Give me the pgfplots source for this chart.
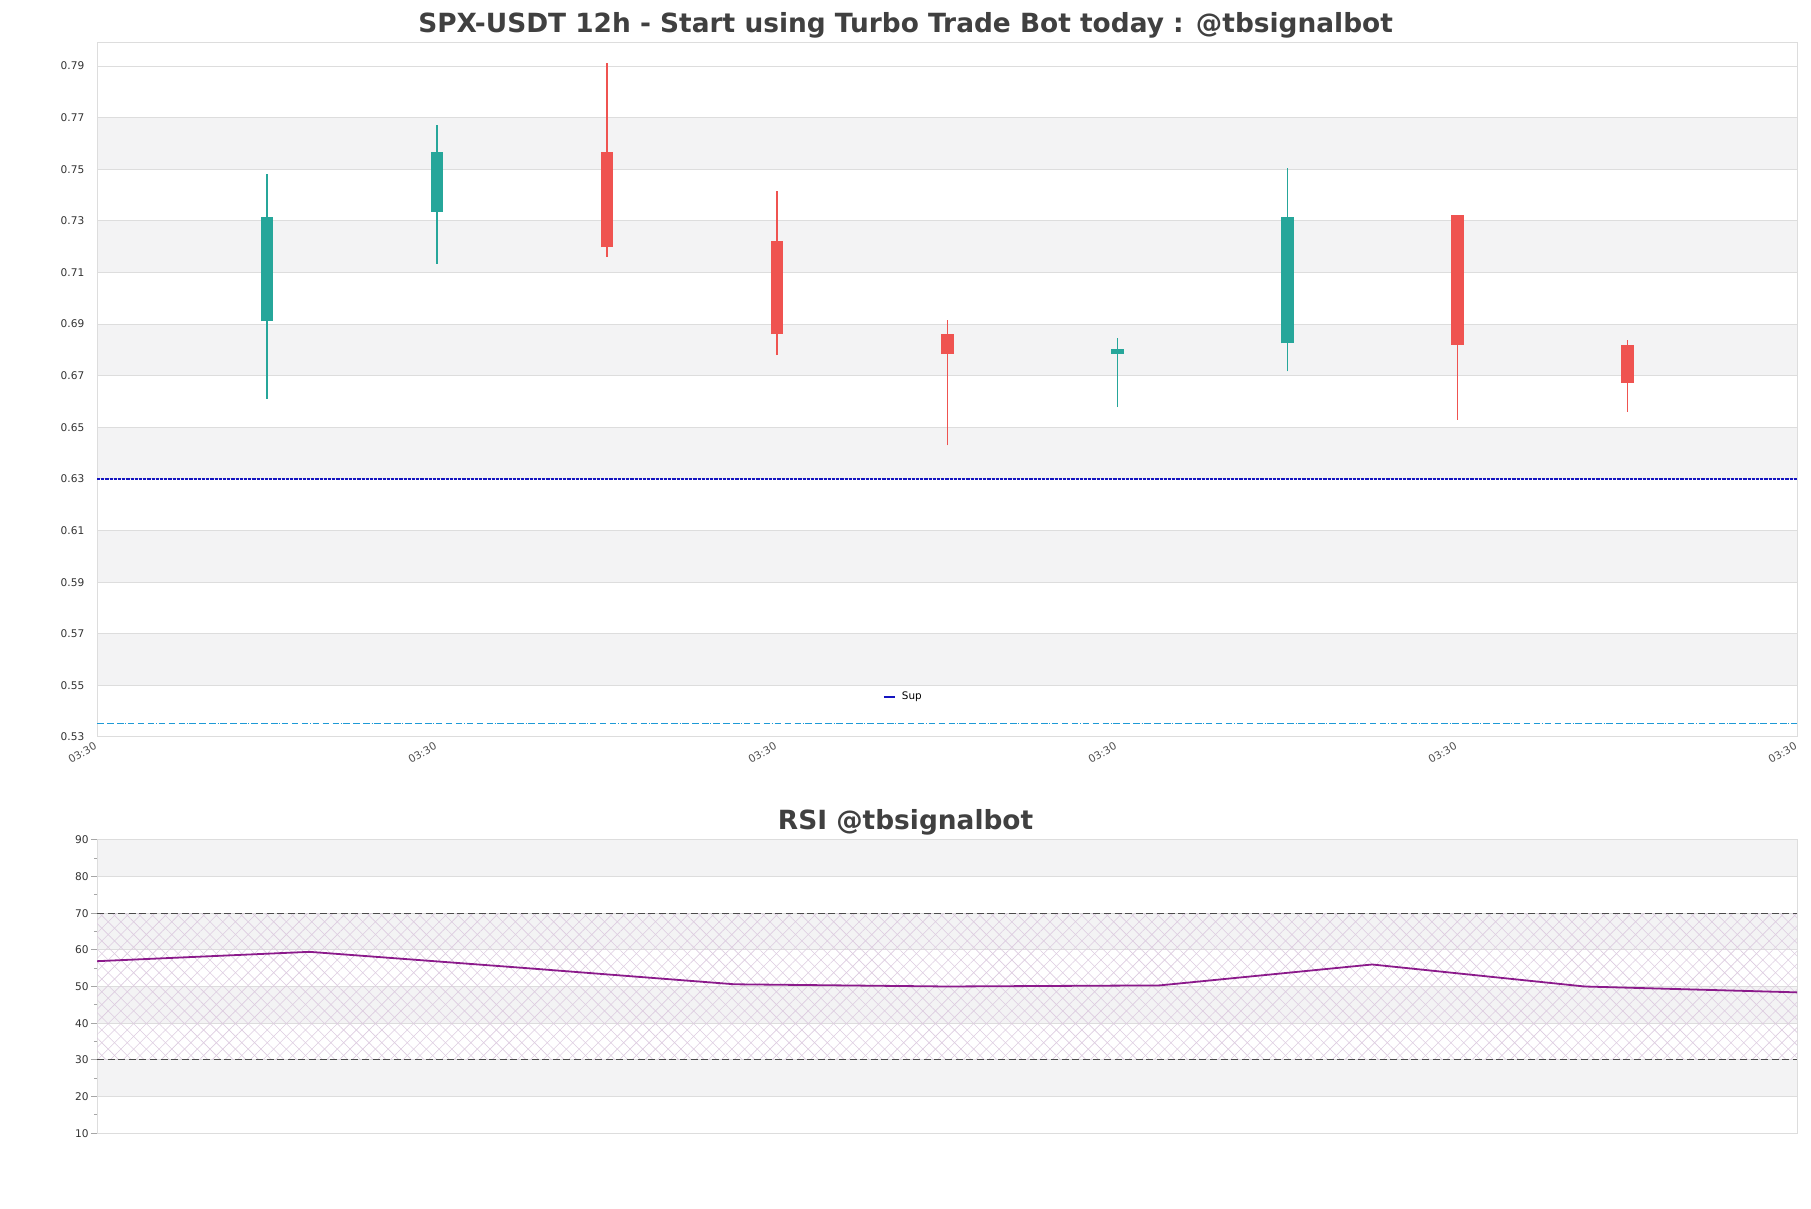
\documentclass[border=0pt]{standalone}
\usepackage{pgfplots}
\pgfplotsset{compat=1.18}
\usepackage{pgfplotstable}
\usetikzlibrary{patterns.meta}
\usepackage{fontspec}
\setmainfont{DejaVu Sans}
\definecolor{cgreen}{HTML}{26A69A}
\definecolor{cred}{HTML}{EF5350}
\definecolor{band}{HTML}{F3F3F4}
\definecolor{gridc}{HTML}{DDDDDD}
\definecolor{titlec}{HTML}{404040}
\definecolor{ticc}{HTML}{333333}
\definecolor{supc}{HTML}{1414C0}
\definecolor{cyanc}{HTML}{1E9AD6}
\definecolor{rsic}{HTML}{8B1A8B}
\definecolor{hatchc}{HTML}{DDCCE0}

\pgfplotstableread{
x o h l c
1 0.6910 0.7483 0.6610 0.7313
2 0.7335 0.7672 0.7134 0.7568
6 0.6784 0.6847 0.6578 0.6802
7 0.6825 0.7506 0.6717 0.7313
}\greentab
\pgfplotstableread{
x o h l c
3 0.7568 0.7913 0.7161 0.7197
4 0.7220 0.7416 0.6780 0.6861
5 0.6860 0.6914 0.6430 0.6784
8 0.7322 0.7322 0.6529 0.6820
9 0.6820 0.6838 0.6560 0.6673
}\redtab
\pgfplotstableread{
x rsi
0 56.9
1 59.45
2 55.1
3 50.6
4 50.0
5 50.3
6 56.0
7 50.0
8 48.4
}\rsitab

\begin{document}
\begin{tikzpicture}
\pgfplotsset{
  /pgf/number format/assume math mode=true,
}
% ---------------- main candlestick axis ----------------
\begin{axis}[
  set layers,
  at={(48.5pt,235.6pt)}, anchor=south west,
  scale only axis, width=850.1pt, height=347.1pt,
  xmin=0, xmax=10, ymin=0.53, ymax=0.799,
  axis line style={gridc, line width=0.5pt},
  xtick={0,2,4,6,8,10},
  xticklabels={03:30,03:30,03:30,03:30,03:30,03:30},
  ytick={0.53,0.55,0.57,0.59,0.61,0.63,0.65,0.67,0.69,0.71,0.73,0.75,0.77,0.79},
  ymajorgrids, grid style={gridc, line width=0.5pt},
  major tick length=0pt,
  tick label style={font=\fontsize{5.3}{6}\selectfont, text=ticc},
  yticklabel style={/pgf/number format/fixed, /pgf/number format/fixed zerofill, /pgf/number format/precision=2, xshift=-2.8pt},
  xticklabel style={rotate=30, anchor=north east, inner sep=1pt, text=ticc!85, xshift=-1.5pt},
  legend style={at={(0.462,0.058)}, anchor=west, draw=none, fill=none, inner sep=0pt,
    font=\fontsize{5.2}{6}\selectfont, nodes={inner sep=1pt}},
  legend image code/.code={\draw[supc, solid, line width=1pt] (0pt,0pt) -- (5.5pt,0pt);},
]
% background bands
\addplot[on layer=axis background, fill=band, draw=none, forget plot] coordinates {(0,0.75) (10,0.75) (10,0.77) (0,0.77)} -- cycle;
\addplot[on layer=axis background, fill=band, draw=none, forget plot] coordinates {(0,0.71) (10,0.71) (10,0.73) (0,0.73)} -- cycle;
\addplot[on layer=axis background, fill=band, draw=none, forget plot] coordinates {(0,0.67) (10,0.67) (10,0.69) (0,0.69)} -- cycle;
\addplot[on layer=axis background, fill=band, draw=none, forget plot] coordinates {(0,0.63) (10,0.63) (10,0.65) (0,0.65)} -- cycle;
\addplot[on layer=axis background, fill=band, draw=none, forget plot] coordinates {(0,0.59) (10,0.59) (10,0.61) (0,0.61)} -- cycle;
\addplot[on layer=axis background, fill=band, draw=none, forget plot] coordinates {(0,0.55) (10,0.55) (10,0.57) (0,0.57)} -- cycle;
% wicks
\addplot[draw=none, mark=none, forget plot,
  error bars/.cd, y dir=plus, y explicit, error mark=none,
  error bar style={draw=cgreen, line width=0.6pt, solid}]
  table[x=x, y=l, y error plus expr=\thisrow{h}-\thisrow{l}] {\greentab};
\addplot[draw=none, mark=none, forget plot,
  error bars/.cd, y dir=plus, y explicit, error mark=none,
  error bar style={draw=cred, line width=0.6pt, solid}]
  table[x=x, y=l, y error plus expr=\thisrow{h}-\thisrow{l}] {\redtab};
% bodies
\addplot[draw=none, mark=none, forget plot,
  error bars/.cd, y dir=plus, y explicit, error mark=none,
  error bar style={draw=cgreen, line width=6.4pt, solid}]
  table[x=x, y=o, y error plus expr=\thisrow{c}-\thisrow{o}] {\greentab};
\addplot[draw=none, mark=none, forget plot,
  error bars/.cd, y dir=plus, y explicit, error mark=none,
  error bar style={draw=cred, line width=6.4pt, solid}]
  table[x=x, y=c, y error plus expr=\thisrow{o}-\thisrow{c}] {\redtab};
% support lines
\addplot[supc, line width=1.3pt, dash pattern=on 1.6pt off 0.5pt, mark=none] coordinates {(0,0.6299) (10,0.6299)};
\addlegendentry{\hspace{2pt}Sup}
\addplot[cyanc, line width=0.6pt, dash pattern=on 3.3pt off 1.7pt on 3.3pt off 1.7pt on 3.3pt off 0.8pt on 0.5pt off 0.8pt, mark=none, forget plot] coordinates {(0,0.5352) (10,0.5352)};
\end{axis}

% ---------------- RSI axis ----------------
\begin{axis}[
  set layers,
  at={(48.5pt,37.5pt)}, anchor=south west,
  scale only axis, width=850.1pt, height=146.7pt,
  xmin=0, xmax=8, ymin=10, ymax=90,
  axis line style={gridc, line width=0.5pt},
  xtick=\empty,
  ytick={10,20,30,40,50,60,70,80,90}, minor y tick num=1,
  ytick pos=left,
  ymajorgrids, grid style={gridc, line width=0.5pt},
  tick align=outside, major tick length=3pt, minor tick length=1.6pt,
  tick style={gray!70, line width=0.4pt},
  tick label style={font=\fontsize{5.3}{6}\selectfont, text=ticc},
  yticklabel style={inner sep=1pt},
]
\addplot[on layer=axis background, fill=band, draw=none] coordinates {(0,80) (8,80) (8,90) (0,90)} -- cycle;
\addplot[on layer=axis background, fill=band, draw=none] coordinates {(0,60) (8,60) (8,70) (0,70)} -- cycle;
\addplot[on layer=axis background, fill=band, draw=none] coordinates {(0,40) (8,40) (8,50) (0,50)} -- cycle;
\addplot[on layer=axis background, fill=band, draw=none] coordinates {(0,20) (8,20) (8,30) (0,30)} -- cycle;
% hatched zone 30..70
\addplot[draw=none, pattern={Lines[angle=45,distance=4.5pt,line width=0.3pt]}, pattern color=hatchc] coordinates {(0,30) (8,30) (8,70) (0,70)} -- cycle;
\addplot[draw=none, pattern={Lines[angle=-45,distance=4.5pt,line width=0.3pt]}, pattern color=hatchc] coordinates {(0,30) (8,30) (8,70) (0,70)} -- cycle;
% thresholds
\addplot[black!70, line width=0.6pt, dash pattern=on 3.5pt off 1.8pt, mark=none] coordinates {(0,70) (8,70)};
\addplot[black!70, line width=0.6pt, dash pattern=on 3.5pt off 1.8pt, mark=none] coordinates {(0,30) (8,30)};
% RSI line
\addplot[rsic, line width=0.9pt, mark=none] table[x=x, y=rsi] {\rsitab};
\end{axis}

% titles
\node[anchor=base, font=\fontsize{13.2}{16}\selectfont\bfseries, text=titlec] at (452.8pt,587.9pt) {SPX-USDT 12h - Start using Turbo Trade Bot today : @tbsignalbot};
\node[anchor=base, font=\fontsize{13.2}{16}\selectfont\bfseries, text=titlec] at (452.8pt,189.4pt) {RSI @tbsignalbot};

\pgfresetboundingbox
\useasboundingbox (0pt,0pt) rectangle (905.5pt,604.1pt);
\end{tikzpicture}
\end{document}
